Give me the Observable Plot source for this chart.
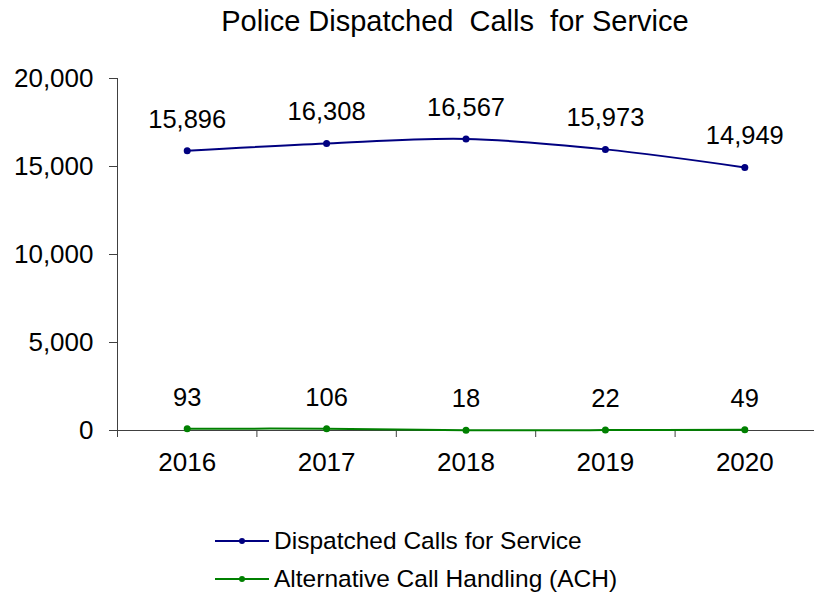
<!DOCTYPE html>
<html>
<head>
<meta charset="utf-8">
<script src="https://cdn.jsdelivr.net/npm/d3@7"></script>
<script src="https://cdn.jsdelivr.net/npm/@observablehq/plot@0.6"></script>
<style>
  html, body { margin: 0; padding: 0; background: #fff; }
  body { width: 814px; height: 592px; position: relative; overflow: hidden; font-family: "Liberation Sans", Arial, sans-serif; color: #000; }
  #title { position: absolute; left: 0; width: 910px; top: 5px; text-align: center; font-size: 29px; white-space: pre; }
  #chart { position: absolute; left: 0; top: 45px; }
  #legend { position: absolute; left: 215px; top: 522px; font-size: 24.5px; }
  .row { display: flex; align-items: center; height: 38px; }
  .row svg { margin-right: 5px; }
</style>
</head>
<body>
<div id="title">Police Dispatched  Calls  for Service</div>
<div id="chart"></div>
<div id="legend"></div>
<script>
const years = [2016, 2017, 2018, 2019, 2020];
const dispatched = [15896, 16308, 16567, 15973, 14949];
const ach = [93, 106, 18, 22, 49];
const seriesNames = ["Dispatched Calls for Service", "Alternative Call Handling (ACH)"];
const seriesColors = ["#000080", "#008000"];
const yTicks = [0, 5000, 10000, 15000, 20000];

const data = [
  ...years.map((y, i) => ({year: y, value: dispatched[i], series: seriesNames[0]})),
  ...years.map((y, i) => ({year: y, value: ach[i], series: seriesNames[1]}))
];
const boundaries = years.map(y => y - 0.5).concat([years[years.length - 1] + 0.5]);
const fmt = d3.format(",");

const plot = Plot.plot({
  width: 814,
  height: 455,
  marginTop: 33,
  marginBottom: 70,
  marginLeft: 117,
  marginRight: 0,
  style: {fontFamily: "'Liberation Sans', Arial, sans-serif", fontSize: "26px", color: "#000", background: "#fff"},
  x: {type: "linear", domain: [boundaries[0], boundaries[boundaries.length - 1]]},
  y: {domain: [0, 20000]},
  color: {domain: seriesNames, range: seriesColors},
  marks: [
    Plot.axisY({ticks: yTicks, tickFormat: fmt, tickSize: 8, tickPadding: 16, label: null, stroke: "#404040", fontSize: 26, fill: "#000"}),
    Plot.ruleX([boundaries[0]], {stroke: "#404040"}),
    Plot.axisX({ticks: boundaries, tickFormat: () => "", tickSize: 7, label: null, stroke: "#404040"}),
    Plot.axisX({ticks: years, tickFormat: d => String(d), tickSize: 0, tickPadding: 22, label: null, fontSize: 26, fill: "#000"}),
    Plot.ruleY([0], {stroke: "#404040"}),
    Plot.line(data, {x: "year", y: "value", z: "series", stroke: "series", strokeWidth: 2, curve: "catmull-rom"}),
    Plot.dot(data, {x: "year", y: "value", fill: "series", r: 3.5}),
    Plot.text(data, {x: "year", y: "value", text: d => fmt(d.value), lineAnchor: "bottom", dy: -23, fontSize: 25.5, fill: "#000"})
  ]
});
document.getElementById("chart").appendChild(plot);

const legend = document.getElementById("legend");
seriesNames.forEach((name, i) => {
  const row = document.createElement("div");
  row.className = "row";
  row.innerHTML = `<svg width="54" height="10"><line x1="0" x2="54" y1="5" y2="5" stroke="${seriesColors[i]}" stroke-width="2"/><circle cx="27" cy="5" r="3" fill="${seriesColors[i]}"/></svg><span>${name}</span>`;
  legend.appendChild(row);
});
</script>
</body>
</html>
